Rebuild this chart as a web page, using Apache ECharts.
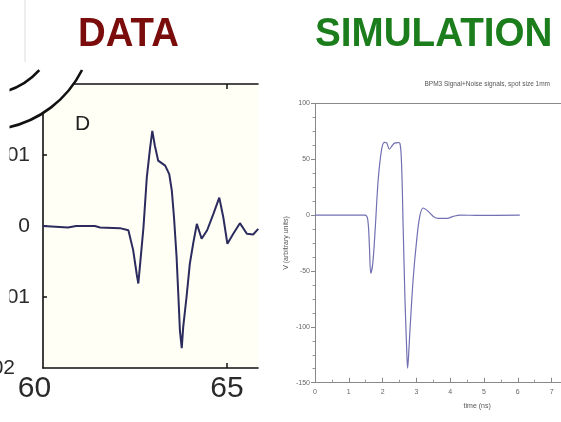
<!DOCTYPE html>
<html>
<head>
<meta charset="utf-8">
<script src="https://cdn.jsdelivr.net/npm/echarts@6/dist/echarts.min.js"></script>
<style>
html,body{margin:0;padding:0;background:#fff;}
#chart{width:561px;height:422px;}
</style>
</head>
<body>
<div id="chart"></div>
<script>
// ---- DATA panel (measured) ----
var dataTime = [60.0, 60.68, 60.9, 61.41, 61.55, 62.09, 62.32, 62.45, 62.55, 62.59, 62.64, 62.73, 62.82, 62.91, 62.97, 63.04, 63.13, 63.32, 63.43, 63.5, 63.56, 63.63, 63.68, 63.72, 63.77, 63.81, 63.9, 63.99, 64.08, 64.18, 64.31, 64.46, 64.63, 64.79, 64.9, 65.01, 65.17, 65.35, 65.54, 65.71, 65.85];
var dataSignal = [0.0, -0.0002, 0.0, 0.0, -0.0002, -0.0003, -0.0006, -0.0034, -0.0069, -0.0081, -0.0053, -0.0002, 0.0068, 0.011, 0.0134, 0.0113, 0.0092, 0.0085, 0.0073, 0.005, 0.0012, -0.0044, -0.01, -0.0147, -0.0172, -0.0142, -0.01, -0.0053, -0.0025, 0.0003, -0.0018, -0.0006, 0.0017, 0.004, 0.0012, -0.0025, -0.0011, 0.0004, -0.0011, -0.0012, -0.0004];
var dataYLabels = [-0.02, -0.01, 0, 0.01];
var dataXLabels = [60, 65];

// ---- SIMULATION panel (measured) ----
var simTime = [0, 1.48, 1.56, 1.61, 1.65, 1.71, 1.78, 1.87, 1.97, 2.05, 2.12, 2.2, 2.28, 2.35, 2.45, 2.51, 2.56, 2.61, 2.66, 2.71, 2.74, 2.77, 2.81, 2.91, 3.01, 3.1, 3.2, 3.35, 3.5, 3.65, 3.9, 4.09, 4.29, 4.88, 6.06];
var simSignal = [0, 0, -4, -28, -52, -43, -13, 31.6, 58.5, 65, 64.5, 59, 62, 64.4, 64.8, 64.4, 46.5, -13, -73, -117.6, -137, -125, -102.7, -55, -22, -1.2, 6.3, 3.3, -1.2, -3, -3, -1.2, 0, -0.3, 0];

var titleLeft = 'DATA';
var titleRight = 'SIMULATION';
var simTitle = 'BPM3 Signal+Noise signals, spot size 1mm';

var chart = echarts.init(document.getElementById('chart'), null, {renderer: 'canvas'});
var deg = Math.PI / 180;
var FONT = '"Liberation Sans", Arial, sans-serif';

function zip(a, b) { return a.map(function (v, i) { return [v, b[i]]; }); }

var option = {
  backgroundColor: '#fff',
  animation: false,
  title: [{
    text: simTitle, right: 6, top: 76,
    textStyle: {fontSize: 6.5, fontWeight: 'normal', color: '#555', fontFamily: FONT}
  }],
  grid: [
    {left: 43, top: 84, width: 215, height: 284, show: true, backgroundColor: '#fffff6', borderWidth: 0, outerBoundsMode: 'none', containLabel: false},
    {left: 315, top: 103.3, right: -24.4, bottom: 39.3, outerBoundsMode: 'none', containLabel: false}
  ],
  xAxis: [
    {
      gridIndex: 0, type: 'value', min: 60, max: 65.842, interval: 5,
      axisLine: {onZero: false, lineStyle: {color: '#111', width: 1.6}},
      axisTick: {inside: true, length: 5, customValues: [65], lineStyle: {color: '#111', width: 1.5}},
      splitLine: {show: false},
      axisLabel: {
        customValues: dataXLabels, margin: 6, fontSize: 30, color: '#2a2a2a', fontFamily: FONT,
        formatter: function (v) { return v === 60 ? '{a|60}' : String(v); },
        rich: {a: {fontSize: 30, color: '#2a2a2a', fontFamily: FONT, padding: [0, 17, 0, 0]}}
      }
    },
    {
      gridIndex: 0, type: 'value', position: 'top', min: 60, max: 65.842, interval: 5,
      axisLine: {onZero: false, lineStyle: {color: '#111', width: 1.6}},
      axisTick: {inside: true, length: 5, customValues: [65], lineStyle: {color: '#111', width: 1.5}},
      axisLabel: {show: false}, splitLine: {show: false}
    },
    {
      gridIndex: 1, type: 'value', min: 0, max: 8, interval: 1,
      name: 'time (ns)', nameLocation: 'middle', nameGap: 20,
      nameTextStyle: {fontSize: 7, color: '#555', fontFamily: FONT, padding: [0, 0, 0, 54]},
      axisLine: {onZero: false, lineStyle: {color: '#888', width: 1}},
      axisTick: {inside: true, length: 5, lineStyle: {color: '#888'}},
      minorTick: {show: true, splitNumber: 2, length: 3, lineStyle: {color: '#999'}},
      splitLine: {show: false},
      axisLabel: {margin: 6, fontSize: 7, color: '#666', fontFamily: FONT}
    },
    {
      gridIndex: 1, type: 'value', position: 'top', min: 0, max: 8, interval: 1,
      axisLine: {onZero: false, lineStyle: {color: '#888', width: 1}},
      axisTick: {show: false}, axisLabel: {show: false}, splitLine: {show: false}
    }
  ],
  yAxis: [
    {
      gridIndex: 0, type: 'value', min: -0.02, max: 0.02, interval: 0.01,
      axisLine: {onZero: false, lineStyle: {color: '#111', width: 1.6}},
      axisTick: {inside: true, length: 4, customValues: [-0.01, 0, 0.01], lineStyle: {color: '#111', width: 1.5}},
      splitLine: {show: false},
      axisLabel: {
        customValues: dataYLabels, margin: 13, fontSize: 21, color: '#2a2a2a', fontFamily: FONT,
        formatter: function (v) {
          if (v === 0) return '0';
          var s = v.toFixed(2);
          return v === -0.02 ? '{b|' + s + '}' : s;
        },
        rich: {b: {fontSize: 21, color: '#2a2a2a', fontFamily: FONT, padding: [0, 15, 0, 0]}}
      }
    },
    {
      gridIndex: 1, type: 'value', min: -150, max: 100, interval: 50,
      name: 'V (arbitrary units)', nameLocation: 'middle', nameGap: 25,
      nameTextStyle: {fontSize: 7, color: '#555', fontFamily: FONT},
      axisLine: {onZero: false, lineStyle: {color: '#888', width: 1}},
      axisTick: {inside: false, length: 4, lineStyle: {color: '#888'}},
      minorTick: {show: true, splitNumber: 4, length: 2.5, lineStyle: {color: '#999'}},
      splitLine: {show: false},
      axisLabel: {margin: 5, fontSize: 7, color: '#666', fontFamily: FONT}
    }
  ],
  series: [
    {
      type: 'line', xAxisIndex: 0, yAxisIndex: 0, data: zip(dataTime, dataSignal),
      showSymbol: false, symbol: 'none', lineStyle: {color: '#2b2b5e', width: 2}
    },
    {
      type: 'line', xAxisIndex: 2, yAxisIndex: 1, data: zip(simTime, simSignal),
      showSymbol: false, symbol: 'none', smooth: 0.35, lineStyle: {color: '#7070b2', width: 1.2}
    }
  ],
  graphic: [
    {type: 'circle', z: 100, shape: {cx: -15.7, cy: 20.6, r: 109.5}, style: {fill: '#fff'}},
    {type: 'arc', z: 101, shape: {cx: -15.7, cy: 20.6, r: 109.5, startAngle: 26.8 * deg, endAngle: 78 * deg, clockwise: true},
      style: {stroke: '#111', lineWidth: 2.6, fill: null}},
    {type: 'arc', z: 101, shape: {cx: -15.7, cy: 20.6, r: 74, startAngle: 42 * deg, endAngle: 72 * deg, clockwise: true},
      style: {stroke: '#111', lineWidth: 2.6, fill: null}},
    {type: 'rect', z: 102, shape: {x: 0, y: 60, width: 9.5, height: 280}, style: {fill: '#fff'}},
    {type: 'line', z: 102, shape: {x1: 25, y1: 0, x2: 25, y2: 62}, style: {stroke: '#ddd', lineWidth: 1}},
    {type: 'text', z: 103, x: 78, y: 14, scaleX: 0.936,
      style: {text: titleLeft, fill: '#7a0c0c', font: 'bold 41px ' + FONT, textAlign: 'left', textVerticalAlign: 'top'}},
    {type: 'text', z: 103, x: 315, y: 14, scaleX: 0.942,
      style: {text: titleRight, fill: '#1b7d1b', font: 'bold 41px ' + FONT, textAlign: 'left', textVerticalAlign: 'top'}},
    {type: 'text', z: 103, x: 75, y: 114,
      style: {text: 'D', fill: '#222', font: '21px ' + FONT, textAlign: 'left', textVerticalAlign: 'top'}}
  ]
};
chart.setOption(option);
</script>
</body>
</html>
